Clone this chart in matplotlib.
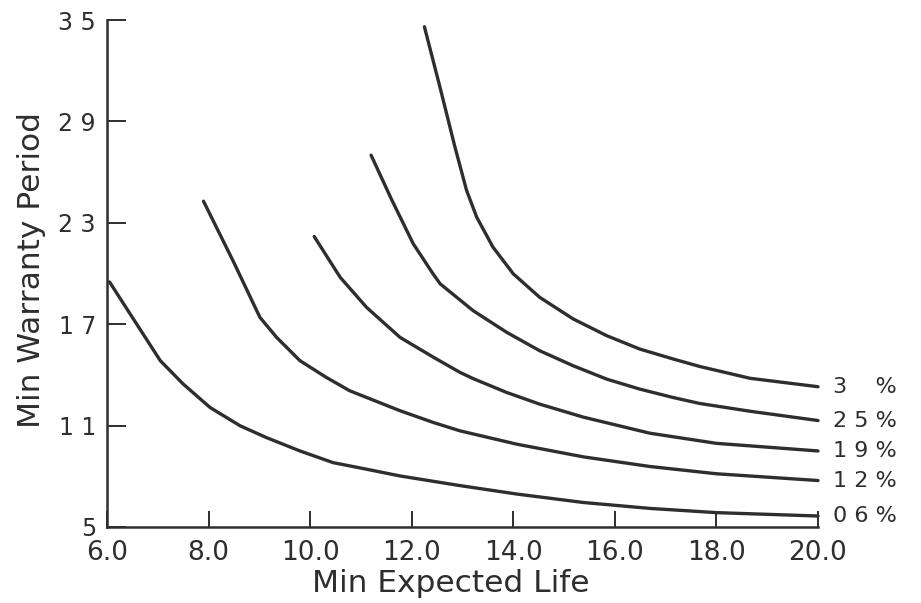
import matplotlib
matplotlib.use("Agg")
import matplotlib.pyplot as plt

# ---- data ----
x06 = [6.05, 6.5, 7.05, 7.5, 8.03, 8.62, 9.14, 9.8, 10.45, 11.11, 11.77, 12.95,
       14.07, 15.38, 16.69, 18.0, 20.0]
y06 = [19.5, 17.4, 14.84, 13.46, 12.07, 10.99, 10.29, 9.5, 8.81, 8.42, 8.02, 7.45,
       6.95, 6.45, 6.1, 5.85, 5.65]

x12 = [7.9, 8.49, 9.01, 9.34, 9.8, 10.32, 10.78, 11.77, 12.43, 12.95, 14.07, 15.38,
       16.69, 18.0, 20.0]
y12 = [24.28, 20.7, 17.41, 16.22, 14.84, 13.85, 13.06, 11.88, 11.18, 10.69, 9.9,
       9.15, 8.58, 8.15, 7.75]

x19 = [10.08, 10.59, 11.11, 11.77, 12.43, 12.95, 13.21, 13.87, 14.52, 15.38,
       16.69, 18.0, 20.0]
y19 = [22.19, 19.78, 18.0, 16.22, 15.04, 14.15, 13.78, 12.96, 12.27, 11.5,
       10.55, 9.95, 9.5]

x25 = [11.2, 11.6, 12.03, 12.42, 12.56, 13.21, 13.87, 14.52, 15.18, 15.84, 16.49,
       17.15, 17.67, 18.66, 20.0]
y25 = [27.0, 24.4, 21.76, 19.98, 19.39, 17.8, 16.52, 15.43, 14.54, 13.75, 13.16,
       12.66, 12.31, 11.85, 11.3]

x31 = [12.25, 12.55, 12.85, 13.08, 13.28, 13.6, 14.0, 14.52, 15.18, 15.84, 16.49,
       17.15, 17.67, 18.66, 20.0]
y31 = [34.6, 31.1, 27.5, 24.92, 23.33, 21.56, 19.98, 18.59, 17.31, 16.32, 15.53,
       14.94, 14.5, 13.8, 13.3]

curve_labels = ["0 6 %", "1 2 %", "1 9 %", "2 5 %", "3 \u2007 %"]

x_ticks = [6, 8, 10, 12, 14, 16, 18, 20]
x_ticklabels = ["6.0", "8.0", "10.0", "12.0", "14.0", "16.0", "18.0", "20.0"]
y_ticks = [5, 11, 17, 23, 29, 35]
y_ticklabels = ["5", "1 1", "1 7", "2 3", "2 9", "3 5"]

x_label = "Min Expected Life"
y_label = "Min Warranty Period"

# ---- drawing ----
ink = "#2e2e2e"
plt.rcParams["font.family"] = ["DejaVu Sans"]

fig = plt.figure(figsize=(9.21, 6.03), dpi=100)
fig.patch.set_facecolor("white")
ax = fig.add_axes([107 / 921, 76 / 603, 711 / 921, 507 / 603])

series = [(x06, y06), (x12, y12), (x19, y19), (x25, y25), (x31, y31)]
for (xs, ys), lab in zip(series, curve_labels):
    ax.plot(xs, ys, color=ink, lw=2.4, solid_capstyle="round",
            solid_joinstyle="round", clip_on=False)
    ax.annotate(lab, xy=(xs[-1], ys[-1]), xytext=(11, 0),
                textcoords="offset points", ha="left", va="center",
                fontsize=16, color=ink, annotation_clip=False)

ax.set_xlim(6, 20)
ax.set_ylim(5, 35)
for side in ("top", "right"):
    ax.spines[side].set_visible(False)
for side in ("left", "bottom"):
    ax.spines[side].set_linewidth(1.8)
    ax.spines[side].set_color(ink)

ax.set_xticks(x_ticks)
ax.set_xticklabels(x_ticklabels)
ax.set_yticks(y_ticks)
ax.set_yticklabels(y_ticklabels)
ax.tick_params(axis="x", direction="in", length=11.5, width=1.4, color=ink,
               labelsize=19, labelcolor=ink, pad=9)
ax.tick_params(axis="y", direction="in", length=13.5, width=1.4, color=ink,
               labelsize=17, labelcolor=ink, pad=8)

fig.text(451 / 921, 1 - 583 / 603, x_label, ha="center", va="center",
         fontsize=22.5, color=ink)
fig.text(32 / 921, 1 - 270 / 603, y_label, ha="center", va="center",
         rotation=90, fontsize=22.5, color=ink)

fig.savefig("out.png", dpi=100, facecolor="white")
